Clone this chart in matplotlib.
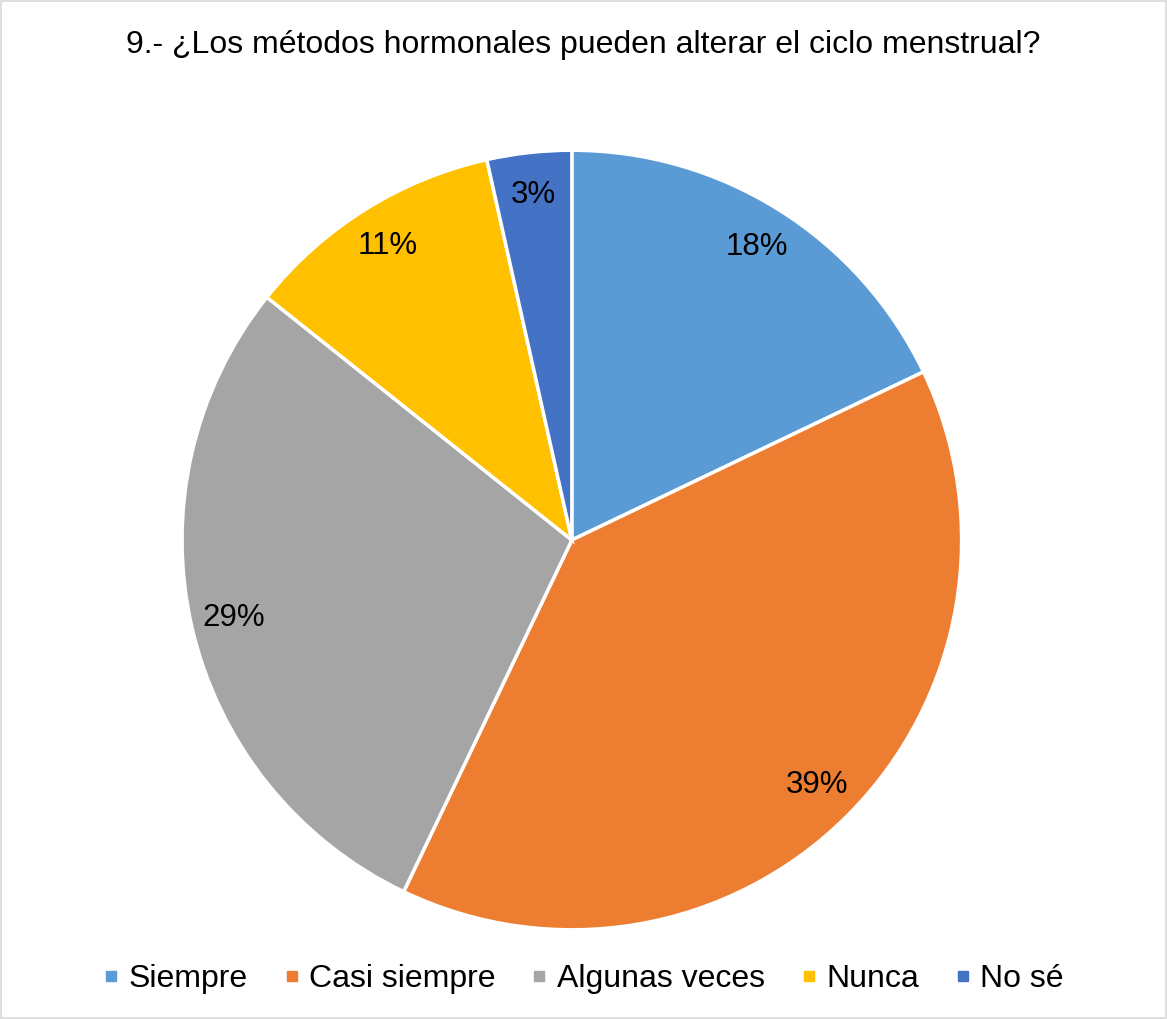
import matplotlib.pyplot as plt
from matplotlib.lines import Line2D
from matplotlib.patches import Rectangle

plt.rcParams['font.family'] = ['Liberation Sans', 'DejaVu Sans']

# Data
categories = ['Siempre', 'Casi siempre', 'Algunas veces', 'Nunca', 'No sé']
shares = [17.9, 39.2, 28.6, 10.8, 3.5]
pct_labels = ['18%', '39%', '29%', '11%', '3%']
colors = ['#5B9BD5', '#ED7D31', '#A5A5A5', '#FFC000', '#4472C4']

fig = plt.figure(figsize=(11.67, 10.19), dpi=100)
ax = fig.add_axes([0.156, 0.0873, 0.668, 0.7655])

wedges, texts = ax.pie(shares, labels=pct_labels, colors=colors, startangle=90,
                       counterclock=False, labeldistance=0.89,
                       wedgeprops=dict(edgecolor='white', linewidth=2.5),
                       textprops=dict(fontsize=22.5, color='#000000'))
for t in texts:
    t.set_ha('center')
    t.set_va('center')
ax.set_aspect('equal')
ax.set_xlim(-1, 1)
ax.set_ylim(-1, 1)

fig.text(0.5, 0.956, '9.- ¿Los métodos hormonales pueden alterar el ciclo menstrual?',
         ha='center', va='center', fontsize=23, color='#000000')

handles = [Line2D([], [], marker='s', linestyle='none', markersize=7,
                  markerfacecolor=c, markeredgecolor=c) for c in colors]
fig.legend(handles, categories, loc='center', bbox_to_anchor=(0.5, 0.039),
           ncol=5, frameon=False, fontsize=23, handlelength=0.5,
           handletextpad=0.3, columnspacing=1.12)

# thin chart border
fig.patches.append(Rectangle((0.001, 0.001), 0.998, 0.998, transform=fig.transFigure,
                             fill=False, edgecolor='#D9D9D9', linewidth=1.2))

fig.savefig('out.png', dpi=100)
